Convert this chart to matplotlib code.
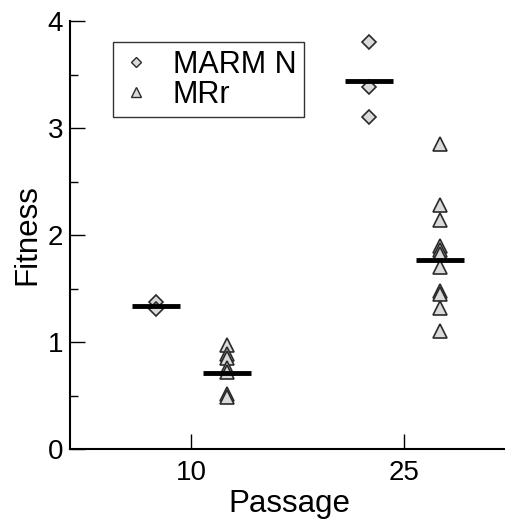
import matplotlib
matplotlib.use("Agg")
import matplotlib.pyplot as plt
from matplotlib.ticker import MultipleLocator

plt.rcParams['font.family'] = ['Liberation Sans', 'DejaVu Sans']

# Data
passages = [10, 25]
tick_labels = ["10", "25"]
marm_10 = [1.37, 1.31]
marm_25 = [3.80, 3.38, 3.10]
mrr_10 = [0.97, 0.89, 0.85, 0.76, 0.72, 0.51, 0.49]
mrr_25 = [2.85, 2.28, 2.14, 1.90, 1.86, 1.82, 1.70, 1.48, 1.45, 1.32, 1.10]
marm_means = [1.34, 3.44]
mrr_means = [0.71, 1.77]

offset = 2.5
halfw = 1.68

fig = plt.figure(figsize=(5.06, 5.19), dpi=100)
ax = fig.add_axes([70/506, 70/519, 438/506, 428/519])

fill = '#dadada'
edge = '#2a2a2a'

for p, vals in zip(passages, [marm_10, marm_25]):
    ax.plot([p - offset]*len(vals), vals, linestyle='none', marker='D', ms=7.2,
            mfc=fill, mec=edge, mew=1.2, zorder=3)
for p, vals in zip(passages, [mrr_10, mrr_25]):
    ax.plot([p + offset]*len(vals), vals, linestyle='none', marker='^', ms=10,
            mfc=fill, mec=edge, mew=1.2, zorder=3)
for p, m in zip(passages, marm_means):
    ax.plot([p - offset - halfw, p - offset + halfw], [m, m], color='black', lw=3.5,
            solid_capstyle='butt', zorder=4)
for p, m in zip(passages, mrr_means):
    ax.plot([p + offset - halfw, p + offset + halfw], [m, m], color='black', lw=3.5,
            solid_capstyle='butt', zorder=4)

# legend proxies
h1, = ax.plot([], [], linestyle='none', marker='D', ms=5.2, mfc=fill, mec=edge, mew=1.0)
h2, = ax.plot([], [], linestyle='none', marker='^', ms=7, mfc=fill, mec=edge, mew=1.0)
leg = ax.legend([h1, h2], ["MARM N", "MRr"], loc='upper left',
                bbox_to_anchor=(43/438, 1 - 21/428), borderaxespad=0,
                fontsize=22, frameon=True, fancybox=False, framealpha=1,
                edgecolor='#333333', handlelength=1.0, handletextpad=0.7,
                labelspacing=0.0, borderpad=0.25)
leg.get_frame().set_linewidth(1.0)

ax.set_xlim(25 - 336/14.27, 25 + 104/14.27)
ax.set_ylim(0, 4)
ax.set_xticks(passages)
ax.set_xticklabels(tick_labels)
ax.yaxis.set_major_locator(MultipleLocator(1))
ax.yaxis.set_minor_locator(MultipleLocator(0.5))

for s in ['top', 'right']:
    ax.spines[s].set_visible(False)
for s in ['left', 'bottom']:
    ax.spines[s].set_linewidth(1.5)

ax.tick_params(axis='both', which='major', direction='in', length=11, width=1.0,
               labelsize=20)
ax.tick_params(axis='y', which='major', pad=5)
ax.tick_params(axis='x', which='major', pad=8)
ax.tick_params(axis='y', which='minor', direction='in', length=5.5, width=1.0)
ax.set_xlabel("Passage", fontsize=22.5, labelpad=2)
ax.set_ylabel("Fitness", fontsize=22.5, labelpad=4)

fig.savefig("out.png", dpi=100)
